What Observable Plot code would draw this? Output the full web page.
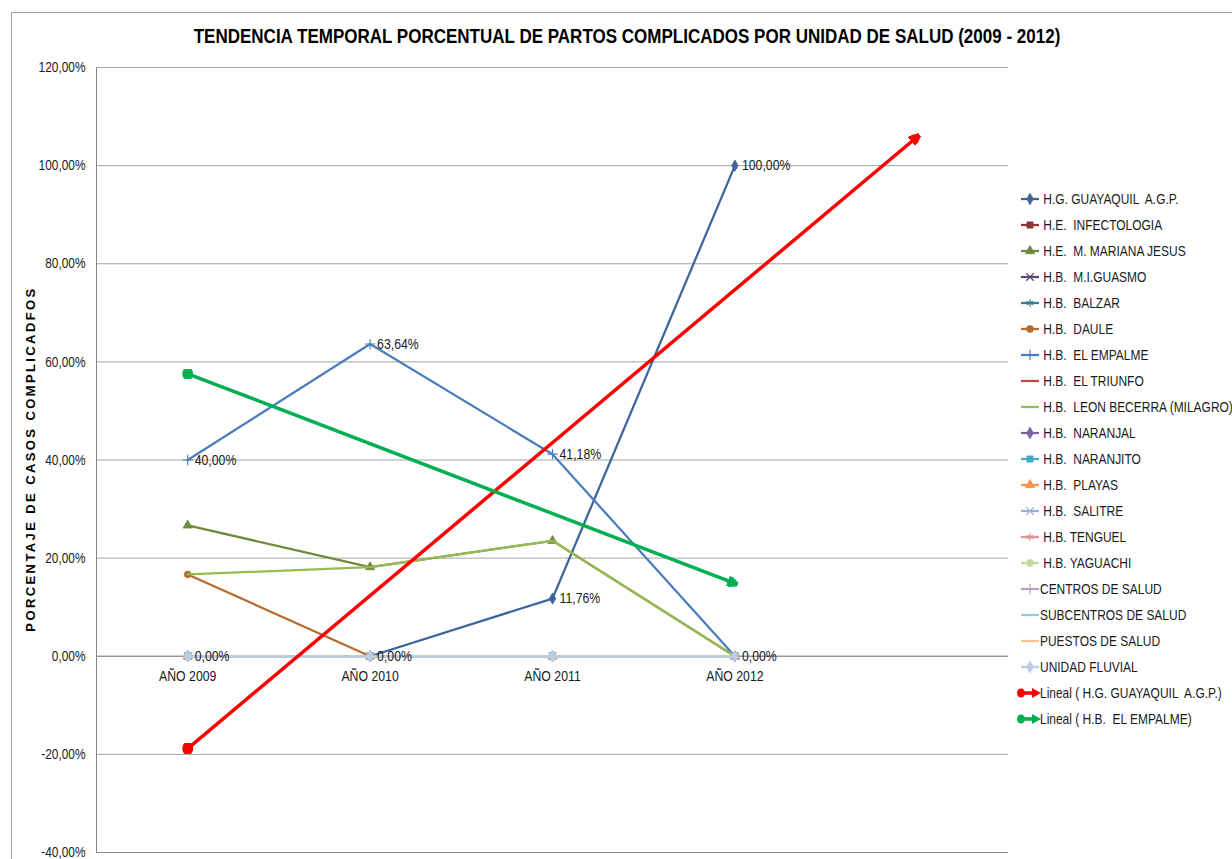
<!DOCTYPE html>
<html lang="es">
<head>
<meta charset="utf-8">
<script src="https://cdn.jsdelivr.net/npm/d3@7"></script>
<script src="https://cdn.jsdelivr.net/npm/@observablehq/plot@0.6"></script>
<style>
  body { margin: 0; background: #fff; }
  #chart { position: relative; width: 1232px; height: 859px; overflow: hidden;
           font-family: "Liberation Sans", Arial, sans-serif; color: #000; }
  #plot { position: absolute; left: 0; top: 0; }
  #title { position: absolute; left: 627px; top: 24px; transform: translateX(-50%) scaleX(0.81);
           white-space: nowrap; font-weight: bold; font-size: 21px; }
  #ytitle { position: absolute; left: 30px; top: 459px; transform: translate(-50%, -50%) rotate(-90deg);
            white-space: nowrap; font-weight: bold; font-size: 13px; letter-spacing: 2.4px; }
  #legend { position: absolute; left: 0; top: 0; }
  #border { position: absolute; left: 11px; top: 12px; width: 1400px; height: 1000px;
            border: 1px solid #A0A0A0; pointer-events: none; }
</style>
</head>
<body>
<div id="chart">
  <div id="plot"></div>
  <div id="title">TENDENCIA TEMPORAL PORCENTUAL DE PARTOS COMPLICADOS POR UNIDAD DE SALUD (2009 - 2012)</div>
  <div id="ytitle">PORCENTAJE DE CASOS COMPLICADFOS</div>
  <svg id="legend" width="1232" height="859"></svg>
  <div id="border"></div>
</div>
<script>
// Categories (the axis has one extra slot on the right for the trend forecast)
const years = ["AÑO 2009", "AÑO 2010", "AÑO 2011", "AÑO 2012"];
const forecastPeriods = 1;

// Health units, in legend / drawing order
const seriesNames = [
  " H.G. GUAYAQUIL  A.G.P.",
  " H.E.  INFECTOLOGIA",
  " H.E.  M. MARIANA JESUS",
  " H.B.  M.I.GUASMO",
  " H.B.  BALZAR",
  " H.B.  DAULE",
  " H.B.  EL EMPALME",
  " H.B.  EL TRIUNFO",
  " H.B.  LEON BECERRA (MILAGRO)",
  " H.B.  NARANJAL",
  " H.B.  NARANJITO",
  " H.B.  PLAYAS",
  " H.B.  SALITRE",
  " H.B. TENGUEL",
  " H.B. YAGUACHI",
  "CENTROS DE SALUD",
  "SUBCENTROS DE SALUD",
  "PUESTOS DE SALUD",
  "UNIDAD FLUVIAL"
];

// Percentage of complicated deliveries per year (2009–2012)
const guayaquil    = [0, 0, 11.76, 100];
const infectologia = [0, 0, 0, 0];
const marianaJesus = [26.67, 18.18, 23.53, 0];
const guasmo       = [0, 0, 0, 0];
const balzar       = [0, 0, 0, 0];
const daule        = [16.67, 0, 0, 0];
const elEmpalme    = [40, 63.64, 41.18, 0];
const elTriunfo    = [0, 0, 0, 0];
const leonBecerra  = [16.67, 18.18, 23.53, 0];
const naranjal     = [0, 0, 0, 0];
const naranjito    = [0, 0, 0, 0];
const playas       = [0, 0, 0, 0];
const salitre      = [0, 0, 0, 0];
const tenguel      = [0, 0, 0, 0];
const yaguachi     = [0, 0, 0, 0];
const centros      = [0, 0, 0, 0];
const subcentros   = [0, 0, 0, 0];
const puestos      = [0, 0, 0, 0];
const fluvial      = [0, 0, 0, 0];

const seriesValues = [guayaquil, infectologia, marianaJesus, guasmo, balzar, daule, elEmpalme,
  elTriunfo, leonBecerra, naranjal, naranjito, playas, salitre, tenguel, yaguachi,
  centros, subcentros, puestos, fluvial];

const seriesColors = ["#3D659A", "#8C3836", "#71893F", "#5C4776", "#357D91", "#B66D31", "#4A7EBB",
  "#BE4B48", "#98B954", "#7D60A0", "#46AAC5", "#F69240", "#95B3D7", "#D99694", "#C3D69B",
  "#B3A2C7", "#93CDDD", "#FAC090", "#B9CDE5"];

const seriesSymbols = ["diamond", "square", "triangle", "times", "asterisk", "circle", "plus",
  null, null, "diamond", "square", "triangle", "times", "asterisk", "circle", "plus",
  null, null, "diamond"];

// Series whose values are printed next to their points
const labeledSeries = [0, 6];

// Linear trend lines
const trendSeries = [0, 6];
const trendColors = ["#FF0000", "#00B050"];
const trendForward = [forecastPeriods, 0];

const yTicks = [-40, -20, 0, 20, 40, 60, 80, 100, 120];

const pct = (v) => v.toFixed(2).replace(".", ",") + "%";
const strokeOnly = new Set(["times", "plus", "asterisk"]);
const SVGNS = "http://www.w3.org/2000/svg";
const NARROW = 0.82; // horizontal squeeze that gives the narrow sans look

// Least-squares fit over the period index (1..n)
function linearFit(values) {
  const xs = values.map((_, i) => i + 1);
  const mx = d3.mean(xs), my = d3.mean(values);
  const b = d3.sum(xs, (x, i) => (x - mx) * (values[i] - my)) / d3.sum(xs, (x) => (x - mx) ** 2);
  return (x) => my + b * (x - mx);
}

function arrowMarker(color) {
  const m = document.createElementNS(SVGNS, "marker");
  m.setAttribute("viewBox", "-5 -5 10 10");
  m.setAttribute("markerWidth", 3);
  m.setAttribute("markerHeight", 3);
  m.setAttribute("refX", 2);
  m.setAttribute("orient", "auto");
  const p = document.createElementNS(SVGNS, "path");
  p.setAttribute("d", "M-5,-4.5L5,0L-5,4.5Z");
  p.setAttribute("fill", color);
  m.appendChild(p);
  return m;
}
function ovalMarker(color) {
  const m = document.createElementNS(SVGNS, "marker");
  m.setAttribute("viewBox", "-5 -5 10 10");
  m.setAttribute("markerWidth", 3);
  m.setAttribute("markerHeight", 3);
  m.setAttribute("orient", "0");
  const e = document.createElementNS(SVGNS, "ellipse");
  e.setAttribute("rx", 3.4);
  e.setAttribute("ry", 4.6);
  e.setAttribute("fill", color);
  m.appendChild(e);
  return m;
}

const rowsFor = (i) => seriesValues[i].map((v, j) => ({name: seriesNames[i], x: j + 1, y: v}));

const seriesMarks = seriesNames.flatMap((name, i) => {
  const rows = rowsFor(i);
  const c = seriesColors[i];
  const marks = [Plot.line(rows, {x: "x", y: "y", stroke: c, strokeWidth: 2.25})];
  const s = seriesSymbols[i];
  if (s) {
    marks.push(Plot.dot(rows, {
      x: "x", y: "y", symbol: () => s, r: 3.4,
      fill: strokeOnly.has(s) ? "none" : c, stroke: c, strokeWidth: strokeOnly.has(s) ? 1.2 : 0.8
    }));
  }
  return marks;
});

const labelMarks = labeledSeries.map((i) =>
  Plot.text(rowsFor(i), {
    x: "x", y: "y", text: (d) => pct(d.y), dx: 7, textAnchor: "start",
    fontSize: 15, fill: "#1a1a1a"
  })
);

const trendMarks = trendSeries.map((i, k) => {
  const f = linearFit(seriesValues[i]);
  const end = seriesValues[i].length + trendForward[k];
  return Plot.line([{x: 1, y: f(1)}, {x: end, y: f(end)}], {
    x: "x", y: "y", stroke: trendColors[k], strokeWidth: 3.5,
    markerStart: ovalMarker, markerEnd: arrowMarker
  });
});

const chart = Plot.plot({
  width: 1232,
  height: 859,
  marginLeft: 96,
  marginRight: 224,
  marginTop: 67,
  marginBottom: 7,
  style: {background: "transparent", fontFamily: "'Liberation Sans', Arial, sans-serif", fontSize: "14px", color: "#1a1a1a"},
  x: {type: "linear", domain: [0.5, years.length + forecastPeriods + 0.5], axis: null},
  y: {domain: [yTicks[0], yTicks[yTicks.length - 1]], axis: null},
  marks: [
    Plot.gridY(yTicks, {stroke: "#A6A6A6", strokeOpacity: 1}),
    Plot.ruleY([yTicks[0]], {stroke: "#868686"}),
    Plot.ruleX([0.5], {stroke: "#868686"}),
    Plot.ruleY([0], {stroke: "#868686"}),
    Plot.axisY(yTicks, {tickSize: 0, tickPadding: 11, tickFormat: pct, fontSize: 14.5, label: null}),
    Plot.text(years, {x: (d, i) => i + 1, y: () => 0, dy: 20, text: (d) => d, fontSize: 15}),
    ...seriesMarks,
    ...labelMarks,
    ...trendMarks
  ]
});
// squeeze every label horizontally about its own anchor point
chart.querySelectorAll("text").forEach((t) => {
  const tr = t.getAttribute("transform") || "";
  t.setAttribute("transform", `${tr} scale(${NARROW},1)`);
});
document.getElementById("plot").appendChild(chart);

// Legend
const legendItems = [
  ...seriesNames.map((name, i) => ({label: name, color: seriesColors[i], symbol: seriesSymbols[i], trend: false})),
  ...trendSeries.map((i, k) => ({label: `Lineal (${seriesNames[i]})`, color: trendColors[k], symbol: null, trend: true}))
];
const leg = d3.select("#legend");
const symbolMap = {
  diamond: d3.symbolDiamond, square: d3.symbolSquare, triangle: d3.symbolTriangle,
  times: d3.symbolTimes, asterisk: d3.symbolAsterisk, circle: d3.symbolCircle, plus: d3.symbolPlus
};
const rowsY = d3.range(legendItems.length).map((i) => 199 + i * 26);
const g = leg.selectAll("g").data(legendItems).join("g")
  .attr("transform", (d, i) => `translate(0,${rowsY[i]})`);
g.filter((d) => !d.trend).append("line")
  .attr("x1", 1021).attr("x2", 1039).attr("stroke", (d) => d.color).attr("stroke-width", 2.25);
g.filter((d) => d.symbol).append("path")
  .attr("transform", "translate(1030,0)")
  .attr("d", (d) => d3.symbol(symbolMap[d.symbol], 38)())
  .attr("fill", (d) => strokeOnly.has(d.symbol) ? "none" : d.color)
  .attr("stroke", (d) => d.color)
  .attr("stroke-width", (d) => strokeOnly.has(d.symbol) ? 1.2 : 0.8);
const tg = g.filter((d) => d.trend);
tg.append("line").attr("x1", 1021).attr("x2", 1034).attr("stroke", (d) => d.color).attr("stroke-width", 3.5);
tg.append("ellipse").attr("cx", 1021).attr("rx", 4).attr("ry", 4.6).attr("fill", (d) => d.color);
tg.append("path").attr("d", "M1032,-5L1041,0L1032,5Z").attr("fill", (d) => d.color);
g.append("text")
  .attr("transform", `translate(1040,0) scale(${NARROW},1)`)
  .attr("dy", "0.35em")
  .attr("font-size", 14.6).attr("fill", "#1a1a1a")
  .style("white-space", "pre")
  .text((d) => d.label);
</script>
</body>
</html>
